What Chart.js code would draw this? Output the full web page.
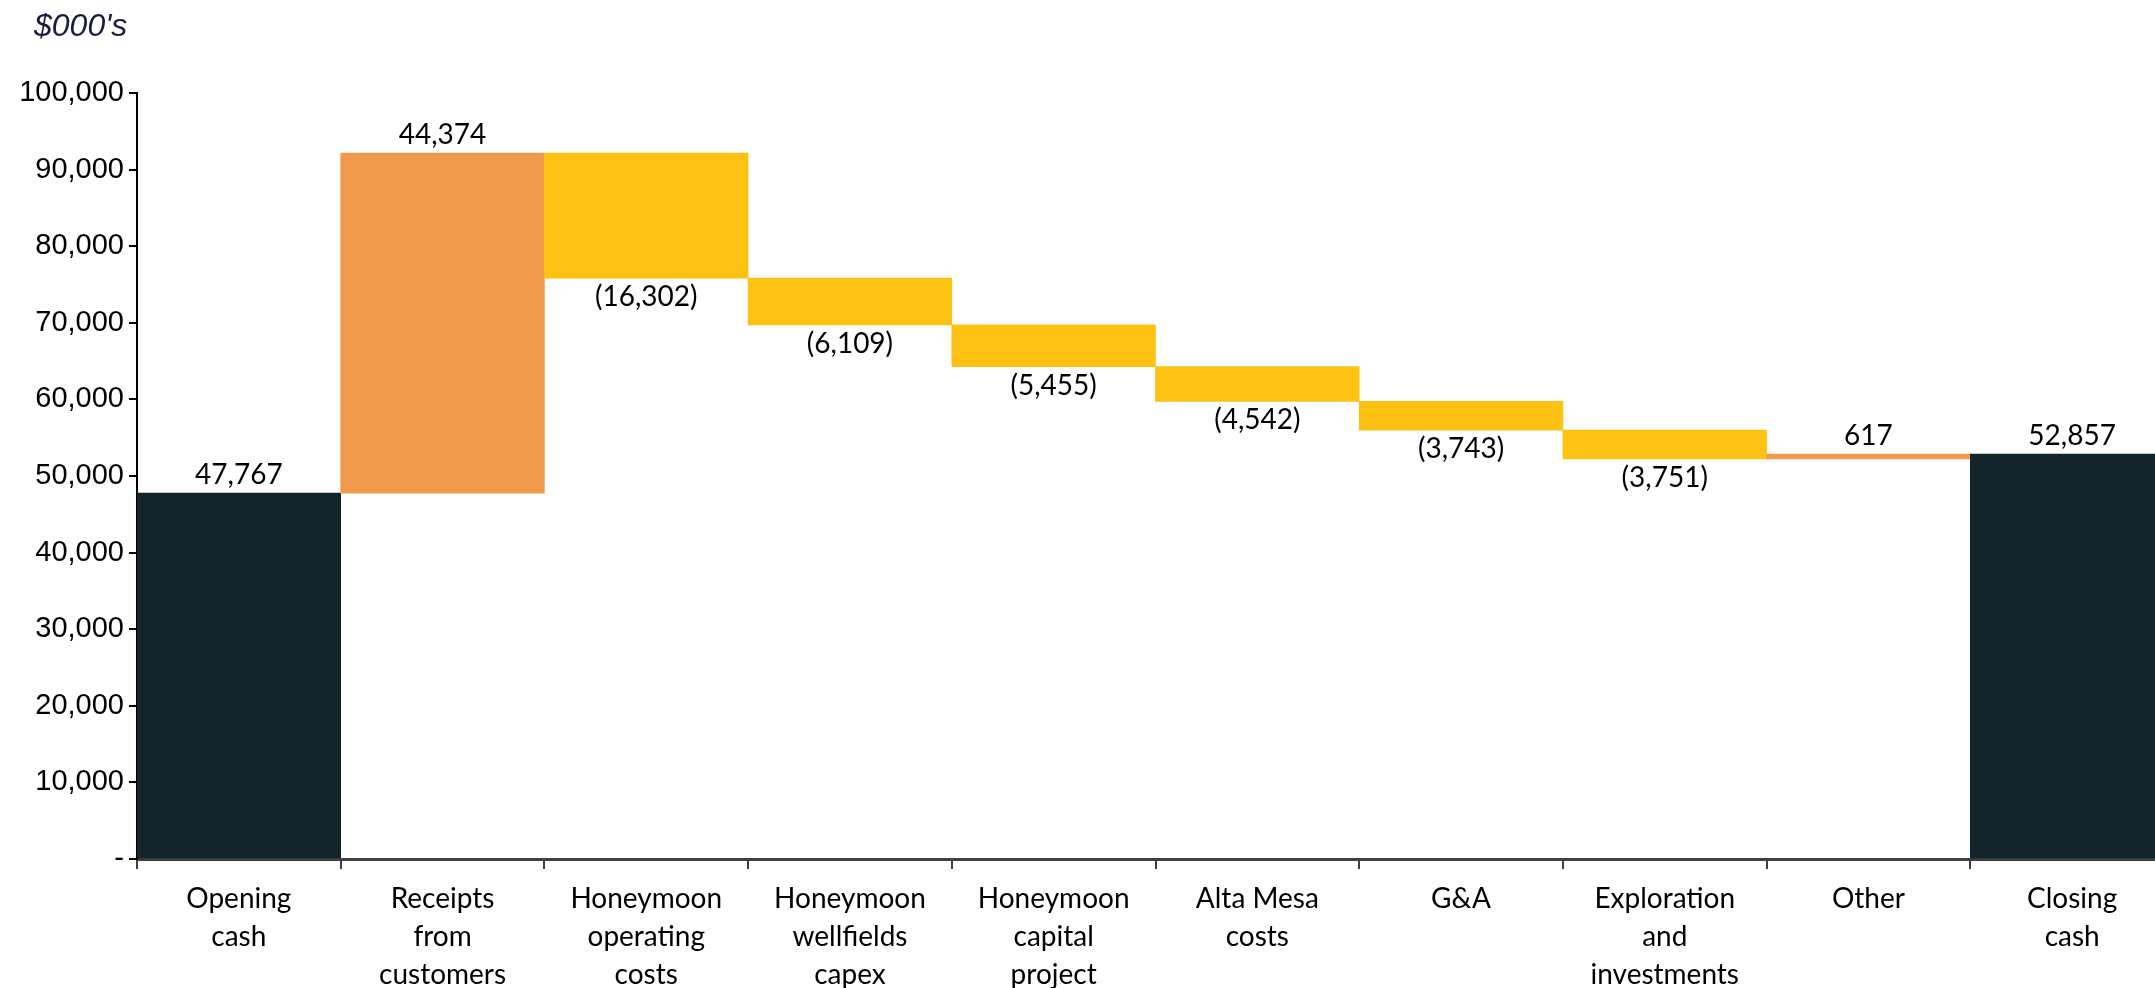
<!DOCTYPE html>
<html>
<head>
<meta charset="utf-8">
<script src="https://cdn.jsdelivr.net/npm/chart.js@4/dist/chart.umd.min.js"></script>
<style>
  html, body { margin: 0; padding: 0; overflow: hidden; background: #ffffff; }
  #wrap { position: relative; width: 2174px; height: 988px; }
</style>
</head>
<body>
<div id="wrap"><canvas id="c" width="2174" height="988"></canvas></div>
<script>
// Cash movement bridge, $000's
const categories = [
  ["Opening", "cash"],
  ["Receipts", "from", "customers"],
  ["Honeymoon", "operating", "costs"],
  ["Honeymoon", "wellfields", "capex"],
  ["Honeymoon", "capital", "project"],
  ["Alta Mesa", "costs"],
  ["G&A"],
  ["Exploration", "and", "investments"],
  ["Other"],
  ["Closing", "cash"]
];
const movements = [47767, 44374, -16302, -6109, -5455, -4542, -3743, -3751, 617, 52857];
const isTotal = [true, false, false, false, false, false, false, false, false, true];
const yTickValues = [0, 10000, 20000, 30000, 40000, 50000, 60000, 70000, 80000, 90000, 100000];

const COLOR_TOTAL = '#13242A';
const COLOR_UP = '#F29A4B';
const COLOR_DOWN = '#FEC213';

// Build floating [start, end] ranges for the waterfall
const ranges = [];
const colors = [];
let running = 0;
movements.forEach((v, i) => {
  if (isTotal[i]) {
    ranges.push([0, v]);
    running = v;
    colors.push(COLOR_TOTAL);
  } else {
    ranges.push([running, running + v]);
    running += v;
    colors.push(v >= 0 ? COLOR_UP : COLOR_DOWN);
  }
});

function fmt(v) {
  const s = Math.abs(v).toLocaleString('en-US');
  return v < 0 ? '(' + s + ')' : s;
}

const LABEL_FONT = '28px Lato';

const valueLabels = {
  id: 'valueLabels',
  afterDatasetsDraw(chart) {
    const ctx = chart.ctx;
    const meta = chart.getDatasetMeta(0);
    ctx.save();
    ctx.font = LABEL_FONT;
    ctx.fillStyle = '#000000';
    ctx.textAlign = 'center';
    ctx.textBaseline = 'middle';
    meta.data.forEach((bar, i) => {
      const v = movements[i];
      const top = Math.min(bar.y, bar.base);
      const bottom = Math.max(bar.y, bar.base);
      if (v < 0) {
        ctx.fillText(fmt(v), bar.x, bottom + 19);
      } else {
        ctx.fillText(fmt(v), bar.x, top - 18);
      }
    });
    ctx.restore();
  }
};

const unitsCaption = {
  id: 'unitsCaption',
  afterDraw(chart) {
    const ctx = chart.ctx;
    ctx.save();
    ctx.font = 'italic 32px "Liberation Sans"';
    ctx.fillStyle = '#1b1b3f';
    ctx.textAlign = 'left';
    ctx.textBaseline = 'middle';
    ctx.fillText("$000's", 34, 27);
    ctx.restore();
  }
};

new Chart(document.getElementById('c'), {
  type: 'bar',
  data: {
    labels: categories,
    datasets: [{
      data: ranges,
      backgroundColor: colors,
      borderWidth: 0,
      barPercentage: 1.0,
      categoryPercentage: 1.0
    }]
  },
  options: {
    responsive: false,
    animation: false,
    devicePixelRatio: 1,
    layout: { padding: { top: 93, left: 0, right: 0, bottom: 0 } },
    plugins: {
      legend: { display: false },
      tooltip: { enabled: false },
      title: { display: false }
    },
    scales: {
      x: {
        offset: true,
        grid: {
          offset: true,
          drawOnChartArea: false,
          drawTicks: true,
          tickLength: 10,
          color: '#404040',
          lineWidth: 2
        },
        border: { display: true, color: '#404040', width: 3 },
        ticks: {
          color: '#000000',
          font: { family: 'Lato', size: 28, lineHeight: 1.36 },
          padding: 11,
          maxRotation: 0,
          autoSkip: false
        },
        afterFit(scale) { scale.height = 129; }
      },
      y: {
        min: 0,
        max: 100000,
        afterBuildTicks(scale) { scale.ticks = yTickValues.map(v => ({ value: v })); },
        grid: {
          drawOnChartArea: false,
          drawTicks: true,
          tickLength: 8,
          color: '#000000',
          lineWidth: 2
        },
        border: { display: true, color: '#000000', width: 2 },
        ticks: {
          color: '#000000',
          font: { family: 'Liberation Sans', size: 29 },
          padding: 5,
          callback: (v) => v === 0 ? '-' : Number(v).toLocaleString('en-US')
        },
        afterFit(scale) { scale.width = 137; }
      }
    }
  },
  plugins: [valueLabels, unitsCaption]
});
</script>
</body>
</html>
